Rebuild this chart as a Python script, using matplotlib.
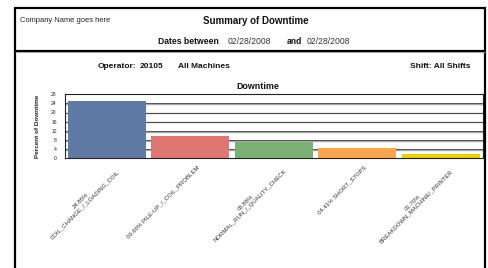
import matplotlib
matplotlib.use("Agg")
import matplotlib.pyplot as plt
from matplotlib.lines import Line2D
from matplotlib.transforms import offset_copy
import matplotlib.transforms as mtrans

plt.rcParams['font.family'] = ['Liberation Sans', 'DejaVu Sans']

# ---- data ----
categories = ["COIL_CHANGE_/_LOADING_COIL", "PILE-UP_/_COIL_PROBLEM",
              "NORMAL_RUN_/_QUALITY_CHECK", "SHORT_STOPS",
              "BREAKDOWN_MACHINE/_PRINTER"]
pct_labels = ["24.85%", "09.60%", "06.88%", "04.41%", "01.70%"]
values = [24.85, 9.60, 6.88, 4.41, 1.70]
two_line = [True, False, True, False, True]
colors = ["#5f7aa4", "#e07671", "#7bb173", "#fca54d", "#e9d300"]
yticks = [0, 4, 8, 12, 16, 20, 24, 28]

W, H = 488, 268
fig = plt.figure(figsize=(W / 100, H / 100), dpi=100)
fig.patch.set_facecolor("white")


def fx(x):
    return x / W


def fy(y):
    return 1 - y / H


def hline(x0, x1, y, lw, color):
    fig.add_artist(Line2D([fx(x0), fx(x1)], [fy(y), fy(y)], lw=lw, color=color,
                          transform=fig.transFigure, solid_capstyle="butt"))


def vline(x, y0, y1, lw, color):
    fig.add_artist(Line2D([fx(x), fx(x)], [fy(y0), fy(y1)], lw=lw, color=color,
                          transform=fig.transFigure, solid_capstyle="butt"))


# page borders
hline(14, 486, 7.5, 1.6, "black")
vline(15, 7, 270, 1.6, "black")
vline(485, 7, 270, 1.6, "black")
hline(15, 485, 50.5, 1.6, "black")
hline(15, 485, 52.3, 0.6, "#9a9a9a")

# header texts
fig.text(fx(20), fy(20), "Company Name goes here", fontsize=5.4, ha="left", va="center",
         color="#222222")
fig.text(fx(256), fy(21), "Summary of Downtime", fontsize=7, fontweight="bold",
         ha="center", va="center", color="#111111")
fig.text(fx(158), fy(42), "Dates between", fontsize=6.2, fontweight="bold",
         ha="left", va="center", color="#111111")
fig.text(fx(228), fy(42), "02/28/2008", fontsize=6.2, ha="left", va="center",
         color="#333333")
fig.text(fx(287), fy(42), "and", fontsize=6.2, fontweight="bold", ha="left",
         va="center", color="#111111")
fig.text(fx(307), fy(42), "02/28/2008", fontsize=6.2, ha="left", va="center",
         color="#333333")

fig.text(fx(98), fy(66.7), "Operator:", fontsize=6, fontweight="bold", ha="left",
         va="center", color="#111111")
fig.text(fx(140), fy(66.7), "20105", fontsize=6, fontweight="bold", ha="left",
         va="center", color="#111111")
fig.text(fx(178), fy(66.7), "All Machines", fontsize=6, fontweight="bold", ha="left",
         va="center", color="#111111")
fig.text(fx(470), fy(66.7), "Shift: All Shifts", fontsize=6, fontweight="bold",
         ha="right", va="center", color="#111111")
fig.text(fx(258), fy(86.5), "Downtime", fontsize=6.4, fontweight="bold",
         ha="center", va="center", color="#111111")

# chart axes
ax_l, ax_r, ax_t, ax_b = 65, 482.5, 94.3, 158
ax = fig.add_axes([fx(ax_l), fy(ax_b), (ax_r - ax_l) / W, (ax_b - ax_t) / H])
x = list(range(len(values)))
ax.set_xlim(-0.5, len(values) - 0.5)
ax.set_ylim(0, 28)

ytr = ax.get_yaxis_transform()
ytr_shadow = offset_copy(ytr, fig=fig, y=-0.8, units="dots")
for t in yticks[1:-1]:
    ax.plot([0, 1], [t, t], color="#a8a8a8", lw=1.0, zorder=0, transform=ytr_shadow)
    ax.plot([0, 1], [t, t], color="#3a3a3a", lw=0.6, zorder=0.5, transform=ytr)

ax.bar(x, values, width=0.935, color=colors, zorder=2)

for s in ax.spines.values():
    s.set_color("#222222")
    s.set_linewidth(0.8)

ax.set_yticks(yticks)
ax.set_yticklabels([str(t) for t in yticks], fontsize=3.6, color="#222222")
ax.set_xticks([])
ax.tick_params(axis="y", length=0, pad=6)
ax.set_ylabel("Percent of Downtime", fontsize=4.6, fontweight="bold", labelpad=8,
              color="#222222")

trans = mtrans.blended_transform_factory(ax.transData, ax.transAxes)
for i, (cat, p, tl) in enumerate(zip(categories, pct_labels, two_line)):
    lab = f"{p}\n{cat}" if tl else f"{p} {cat}"
    tr = offset_copy(trans, fig=fig, x=6, y=-7, units="dots")
    ax.text(i, 0, lab, transform=tr, rotation=45, rotation_mode="anchor",
            ha="right", va="top", multialignment="center", fontsize=4.3,
            color="#333333", linespacing=1.1, clip_on=False)

fig.savefig("out.png", dpi=100, facecolor="white")
